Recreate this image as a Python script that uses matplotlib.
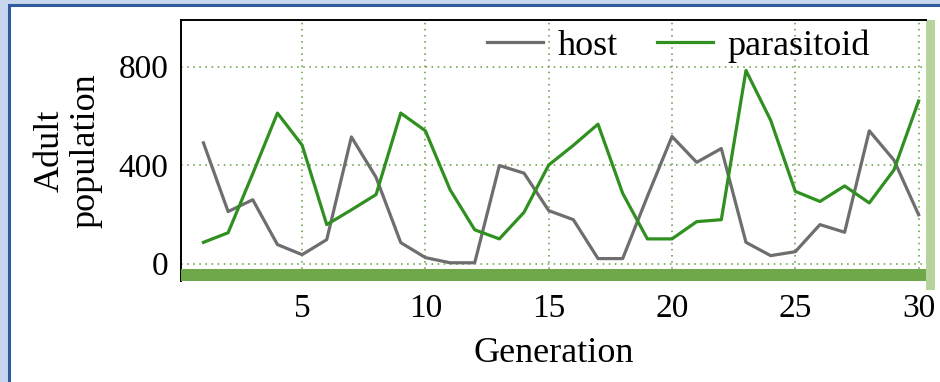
import matplotlib
matplotlib.use('Agg')
import matplotlib.pyplot as plt
from matplotlib.patches import Rectangle

generation = list(range(1, 31))
host = [490, 211, 259, 77, 36, 97, 514, 350, 85, 24, 3, 3, 398, 367, 215,
        178, 20, 20, 272, 516, 411, 467, 86, 32, 48, 158, 127, 539, 420, 198]
parasitoid = [86, 125, 365, 611, 481, 158, 218, 280, 611, 539, 300, 137, 100, 208, 400,
              480, 566, 285, 100, 100, 170, 178, 784, 582, 293, 252, 315, 246, 380, 660]
xticks = [5, 10, 15, 20, 25, 30]
yticks = [0, 400, 800]

plt.rcParams['font.family'] = ['Liberation Serif', 'DejaVu Serif']

fig = plt.figure(figsize=(9.4, 3.82), dpi=100)
fig.patch.set_facecolor('#c8d7ee')

# white panel with blue frame
fig.patches.append(Rectangle((8.5 / 940, -0.1), 1.2, 1.1 - 5.5 / 382,
                             transform=fig.transFigure, facecolor='white',
                             edgecolor='#2f5a9c', lw=2.2, zorder=-2))
# light green bar on the right
fig.patches.append(Rectangle((926 / 940, 1 - 290 / 382), 9 / 940, 270 / 382,
                             transform=fig.transFigure, facecolor='#b5d59c',
                             edgecolor='none', zorder=-1))

ax = fig.add_axes([181 / 940, 1 - 281 / 382, 745 / 940, 261 / 382])
ax.set_facecolor('white')

ax.plot(generation, host, color='#6e6e6e', lw=2.3, label='host', zorder=3)
ax.plot(generation, parasitoid, color='#2f9020', lw=2.3, label='parasitoid', zorder=4)

ax.axhspan(-71, -22, color='#6fa84b', zorder=5, lw=0)

ax.set_xlim(0.09, 30.3)
ax.set_ylim(-71, 989)
ax.set_xticks(xticks)
ax.set_yticks(yticks)
ax.tick_params(length=0, labelsize=24)
ax.tick_params(axis='y', pad=9)
ax.tick_params(axis='x', pad=9)
ax.grid(True, ls=(0, (1, 3)), color='#5c9a3c', lw=1.1)

for s in ['right', 'bottom']:
    ax.spines[s].set_visible(False)
ax.spines['left'].set_linewidth(1.4)
ax.spines['top'].set_linewidth(1.4)

ax.set_xlabel('Generation', fontsize=26, labelpad=9)
ax.set_ylabel('Adult\npopulation', fontsize=26, labelpad=12, linespacing=1.1)

ax.legend(loc='center right', ncol=2, frameon=False, fontsize=26,
          bbox_to_anchor=(0.925, 0.9), borderpad=0, borderaxespad=0,
          handlelength=1.55, columnspacing=1.1, handletextpad=0.4)

fig.savefig('out.png', dpi=100, facecolor=fig.get_facecolor())
